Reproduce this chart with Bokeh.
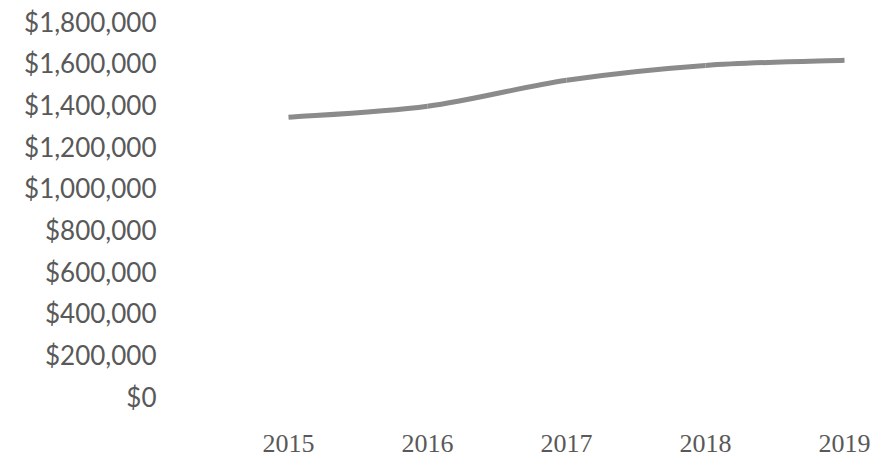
from bokeh.plotting import figure
from bokeh.models import Range1d, FixedTicker
from bokeh.core.properties import value
from bokeh.embed import file_html
from bokeh.resources import INLINE

# ---- data ----
years = [2015, 2016, 2017, 2018, 2019]
year_labels = ["2015", "2016", "2017", "2018", "2019"]
values = [1340000, 1393000, 1518000, 1589000, 1614000]
y_ticks = [0, 200000, 400000, 600000, 800000, 1000000, 1200000, 1400000, 1600000, 1800000]
y_tick_labels = ["$0", "$200,000", "$400,000", "$600,000", "$800,000",
                 "$1,000,000", "$1,200,000", "$1,400,000", "$1,600,000", "$1,800,000"]

p = figure(width=876, height=459, output_backend="svg", toolbar_location=None,
           x_range=Range1d(2014.144, 2019.230), y_range=Range1d(-297600, 1800000),
           min_border_left=169, min_border_right=0, min_border_top=21, min_border_bottom=1)
p.outline_line_color = None
p.grid.visible = False
p.background_fill_color = "white"
p.border_fill_color = "white"

# smooth line (Catmull-Rom style bezier through the data points)
n = len(years)
x0, y0, x1, y1, cx0, cy0, cx1, cy1 = [], [], [], [], [], [], [], []
for i in range(n - 1):
    im1 = max(i - 1, 0)
    ip2 = min(i + 2, n - 1)
    x0.append(years[i]); y0.append(values[i])
    x1.append(years[i + 1]); y1.append(values[i + 1])
    cx0.append(years[i] + (years[i + 1] - years[im1]) / 6)
    cy0.append(values[i] + (values[i + 1] - values[im1]) / 6)
    cx1.append(years[i + 1] - (years[ip2] - years[i]) / 6)
    cy1.append(values[i + 1] - (values[ip2] - values[i]) / 6)
p.bezier(x0=x0, y0=y0, x1=x1, y1=y1, cx0=cx0, cy0=cy0, cx1=cx1, cy1=cy1,
         line_color="#8B8B8B", line_width=5, line_cap="butt")

# category labels drawn below the zero line
p.text(x=years, y=[0] * len(years), text=year_labels,
       text_font=value("Liberation Serif"), text_font_size="26px",
       text_color="#595959", text_align="center", text_baseline="alphabetic",
       y_offset=47)

p.xaxis.visible = False

# y axis
ya = p.yaxis[0]
ya.ticker = FixedTicker(ticks=y_ticks)
ya.major_label_overrides = {t: l for t, l in zip(y_ticks, y_tick_labels)}
ya.axis_line_color = None
ya.major_tick_line_color = None
ya.minor_tick_line_color = None
ya.major_tick_out = 0
ya.major_label_standoff = 13
ya.major_label_text_font = "Lato"
ya.major_label_text_font_size = "26px"
ya.major_label_text_color = "#595959"

open("out.html", "w").write(file_html(p, INLINE))
